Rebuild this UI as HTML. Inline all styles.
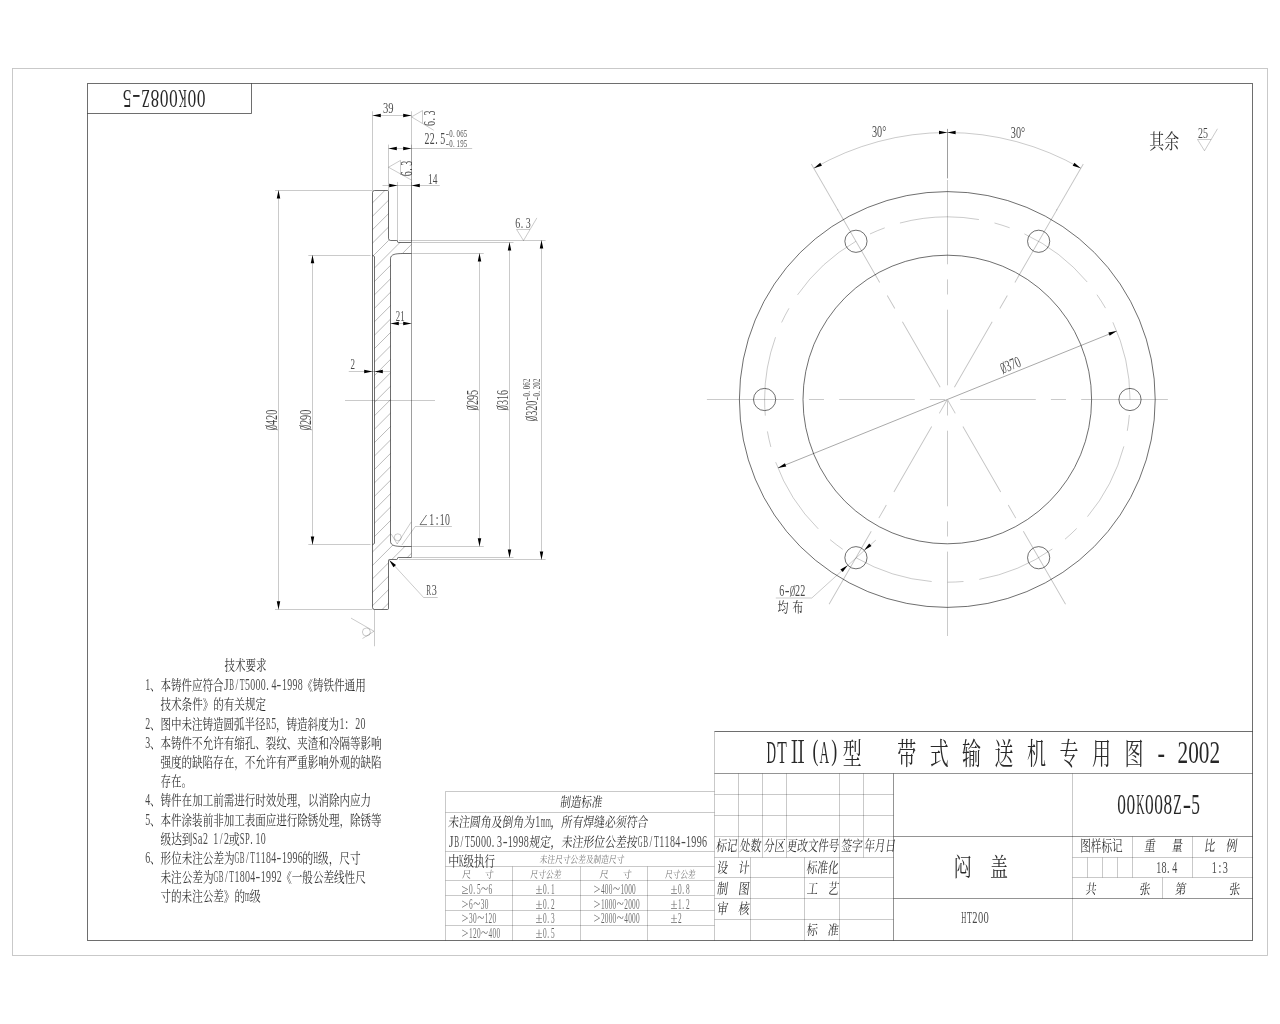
<!DOCTYPE html>
<html lang="zh"><head><meta charset="utf-8"><title>00K008Z-5 闷盖</title>
<style>
html,body{margin:0;padding:0;background:#fff}
body{width:1280px;height:1024px;overflow:hidden;font-family:"Liberation Serif",serif}
svg{display:block;will-change:transform}
.k{fill:none;stroke:#000;stroke-opacity:.57;stroke-width:1}
.t{fill:none;stroke:#000;stroke-opacity:.235;stroke-width:.9}
.t2{fill:none;stroke:#000;stroke-opacity:.38;stroke-width:1}
.t3{fill:none;stroke:#000;stroke-opacity:.34;stroke-width:1}
.m{fill:none;stroke:#000;stroke-opacity:.21;stroke-width:1}
.m2{fill:none;stroke:#000;stroke-opacity:.42;stroke-width:1}
.d{stroke-opacity:.6}
.hh{stroke-opacity:.3}
.sl{fill:none;stroke:#000;stroke-opacity:.5;stroke-width:.5}
.a{fill:#000;stroke:none}
.s{font-family:"Liberation Serif",serif;fill:#000;fill-opacity:.72}
.b{fill-opacity:.85}
.l{fill-opacity:.6}
.ct{font-family:"Liberation Serif","Noto Serif CJK SC",serif;fill:#000;fill-opacity:.84}
.ct.l{fill-opacity:.6}
</style></head><body>
<svg width="1280" height="1024" viewBox="0 0 1280 1024">
<rect class="t" x="12.5" y="68.5" width="1255" height="887"/>
<rect class="k" x="87.5" y="83.5" width="1165" height="857"/>
<path class="k" d="M87.5 113.5H251.5V83.5"/>
<g class="s b" transform="translate(205.8 90.3) rotate(180)" font-size="25.56" aria-label="00K008Z-5">
<text transform="scale(0.68 1)" x="0.41 14.01">00</text>
<text x="19" textLength="8.34" lengthAdjust="spacingAndGlyphs">K</text>
<text transform="scale(0.68 1)" x="41.2 54.8 68.4">008</text>
<text x="56.08" textLength="8.34" lengthAdjust="spacingAndGlyphs">Z</text>
<text x="65.35" textLength="8.34" lengthAdjust="spacingAndGlyphs">-</text>
<text transform="scale(0.68 1)" x="109.19">5</text>
</g>
<clipPath id="sc"><path d="M372.5 190.5L388.5 190.5L388.5 240.5L397.5 240.5L397.5 242.5L411.5 242.5L411.5 253.5L402.5 253.5C396 253.7 390.5 254 390.5 258.8L390.5 541.2C390.5 546 396 546.3 402.5 546.5L411.5 546.5L411.5 557.5L397.5 557.5L397.5 559.5L388.5 559.5L388.5 609.5L372.5 609.5L372.5 544.8L374.5 543.4L374.5 256.6L372.5 255.2Z"/></clipPath>
<path class="t hh" clip-path="url(#sc)" d="M370 205.3L413 162.3M370 218.73L413 175.73M370 232.16L413 189.16M370 245.59L413 202.59M370 259.02L413 216.02M370 272.45L413 229.45M370 285.88L413 242.88M370 299.31L413 256.31M370 312.74L413 269.74M370 326.17L413 283.17M370 339.6L413 296.6M370 353.03L413 310.03M370 366.46L413 323.46M370 379.89L413 336.89M370 393.32L413 350.32M370 406.75L413 363.75M370 420.18L413 377.18M370 433.61L413 390.61M370 447.04L413 404.04M370 460.47L413 417.47M370 473.9L413 430.9M370 487.33L413 444.33M370 500.76L413 457.76M370 514.19L413 471.19M370 527.62L413 484.62M370 541.05L413 498.05M370 554.48L413 511.48M370 567.91L413 524.91M370 581.34L413 538.34M370 594.77L413 551.77M370 608.2L413 565.2M370 621.63L413 578.63"/>
<path class="k" d="M372.5 192.5Q372.5 190.5 374.5 190.5L387.5 190.5Q388.5 190.5 388.5 191.5L388.5 238.3Q388.5 240.5 390.7 240.5L396.7 240.5Q397.5 240.5 397.5 241.3Q397.5 242.5 398.3 242.5L411.5 242.5"/>
<path class="k" d="M411.5 253.5L402.5 253.5C396 253.7 390.5 254 390.5 258.8L390.5 541.2C390.5 546 396 546.3 402.5 546.5L411.5 546.5"/>
<path class="k" d="M411.5 557.5L398.3 557.5Q397.5 557.5 397.5 558.5Q397.5 559.5 396.7 559.5L389.3 559.5Q388.5 559.5 388.5 560.5L388.5 608.4Q388.5 609.5 387.5 609.5L374.5 609.5Q372.5 609.5 372.5 607.4L372.5 192.5"/>
<path class="k" d="M372.5 255.2L374.5 256.6L374.5 543.4L372.5 544.8"/>
<path class="t2" d="M411.5 242.5V557.5"/>
<path class="t" d="M345 400.5L435 400.5"/>
<path class="t" d="M372.5 111.3L372.5 190.5"/>
<path class="t" d="M411.5 111.3L411.5 242.3"/>
<path class="t" d="M372.5 115.5L411.5 115.5"/>
<path class="a" d="M372.5 115.5L380.8 113.75L380.8 117.25z"/>
<path class="a" d="M411.5 115.5L403.2 117.25L403.2 113.75z"/>
<text class="s" transform="translate(383 113.2)" font-size="14.44" textLength="10.6" lengthAdjust="spacingAndGlyphs">39</text>
<path class="t" d="M422.5 110.6L411.5 116.9L433.75 130.25M422.5 110.6V123.1"/>
<g class="s" transform="translate(434.8 126.2) rotate(-90)" font-size="15.64" aria-label="6.3">
<text transform="scale(0.64 1)" x="0.25 8.85 16.89">6.3</text>
</g>
<path class="t" d="M388.5 144.6L388.5 190.5"/>
<path class="t" d="M411.5 144.6L411.5 242.3"/>
<path class="t" d="M388.5 148.5L472.2 148.5"/>
<path class="a" d="M388.5 148.5L396.8 146.75L396.8 150.25z"/>
<path class="a" d="M411.5 148.5L403.2 150.25L403.2 146.75z"/>
<g class="s" transform="translate(424.4 144.1)" font-size="16.24" aria-label="22.5">
<text transform="scale(0.61 1)" x="0.26 8.9 17.83 26.18">22.5</text>
</g>
<g class="s" transform="translate(445.6 137.2)" font-size="10.83" aria-label="-0.065">
<text x="0.18" textLength="3.26" lengthAdjust="spacingAndGlyphs">-</text>
<text transform="scale(0.63 1)" x="5.93 11.88 17.45 23.21 28.97">0.065</text>
</g>
<g class="s" transform="translate(445.6 146.9)" font-size="10.83" aria-label="-0.195">
<text x="0.18" textLength="3.26" lengthAdjust="spacingAndGlyphs">-</text>
<text transform="scale(0.63 1)" x="5.93 11.88 17.45 23.21 28.97">0.195</text>
</g>
<path class="t" d="M400.5 160.4L388.5 167.25L411.9 180.25M400.5 160.4V175"/>
<g class="s" transform="translate(411.8 176.5) rotate(-90)" font-size="15.64" aria-label="6.3">
<text transform="scale(0.64 1)" x="0.25 8.85 16.89">6.3</text>
</g>
<path class="t" d="M397.5 181.9L397.5 241.2"/>
<path class="t" d="M411.5 181.9L411.5 242.3"/>
<path class="t" d="M382.5 185.5L439.75 185.5"/>
<path class="a" d="M397.5 185.5L389.2 187.25L389.2 183.75z"/>
<path class="a" d="M411.5 185.5L419.8 183.75L419.8 187.25z"/>
<text class="s" transform="translate(428.1 183.5)" font-size="14.66" textLength="9.4" lengthAdjust="spacingAndGlyphs">14</text>
<path class="t" d="M275 190.5L372.5 190.5"/>
<path class="t" d="M275 609.5L372.5 609.5"/>
<path class="t" d="M278.5 190.5L278.5 609.4"/>
<path class="a" d="M278.5 190.3L280.25 198.6L276.75 198.6z"/>
<path class="a" d="M278.5 609.6L276.75 601.3L280.25 601.3z"/>
<text class="s" transform="translate(276.9 430.1) rotate(-90)" font-size="15.92" textLength="4.99" lengthAdjust="spacingAndGlyphs">Ø</text>
<path class="sl" transform="translate(276.9 430.2) rotate(-90)" d="M0.2 0.9L4.7 -11.4"/>
<text class="s" transform="translate(276.9 425) rotate(-90)" font-size="16.24" textLength="15.2" lengthAdjust="spacingAndGlyphs">420</text>
<path class="t" d="M308.3 255.5L370.5 255.5"/>
<path class="t" d="M308.3 544.5L370.5 544.5"/>
<path class="t" d="M312.5 255.2L312.5 544.5"/>
<path class="a" d="M312.5 255L314.25 263.3L310.75 263.3z"/>
<path class="a" d="M312.5 544.7L310.75 536.4L314.25 536.4z"/>
<text class="s" transform="translate(310.9 430.1) rotate(-90)" font-size="15.92" textLength="4.99" lengthAdjust="spacingAndGlyphs">Ø</text>
<path class="sl" transform="translate(310.9 430.2) rotate(-90)" d="M0.2 0.9L4.7 -11.4"/>
<text class="s" transform="translate(310.9 425) rotate(-90)" font-size="16.24" textLength="15.2" lengthAdjust="spacingAndGlyphs">290</text>
<path class="t" d="M412.3 253.5L483.75 253.5"/>
<path class="t" d="M412.3 546.5L483.75 546.5"/>
<path class="t" d="M479.5 253.4L479.5 546.4"/>
<path class="a" d="M479.5 253.2L481.25 261.5L477.75 261.5z"/>
<path class="a" d="M479.5 546.6L477.75 538.3L481.25 538.3z"/>
<text class="s" transform="translate(478 410.2) rotate(-90)" font-size="15.92" textLength="4.99" lengthAdjust="spacingAndGlyphs">Ø</text>
<path class="sl" transform="translate(478 410.3) rotate(-90)" d="M0.2 0.9L4.7 -11.4"/>
<text class="s" transform="translate(478 405.1) rotate(-90)" font-size="16.24" textLength="15.2" lengthAdjust="spacingAndGlyphs">295</text>
<path class="t" d="M412.3 242.5L513.5 242.5"/>
<path class="t" d="M412.3 557.5L513.5 557.5"/>
<path class="t" d="M509.5 242.4L509.5 557.5"/>
<path class="a" d="M509.5 242.2L511.25 250.5L507.75 250.5z"/>
<path class="a" d="M509.5 557.7L507.75 549.4L511.25 549.4z"/>
<text class="s" transform="translate(507.5 410.2) rotate(-90)" font-size="15.92" textLength="4.99" lengthAdjust="spacingAndGlyphs">Ø</text>
<path class="sl" transform="translate(507.5 410.3) rotate(-90)" d="M0.2 0.9L4.7 -11.4"/>
<text class="s" transform="translate(507.5 405.1) rotate(-90)" font-size="16.24" textLength="15.2" lengthAdjust="spacingAndGlyphs">316</text>
<path class="t" d="M399 240.5L545.6 240.5"/>
<path class="t" d="M399 559.5L545.6 559.5"/>
<path class="t" d="M541.5 240.4L541.5 559.6"/>
<path class="a" d="M541.5 240.2L543.25 248.5L539.75 248.5z"/>
<path class="a" d="M541.5 559.8L539.75 551.5L543.25 551.5z"/>
<text class="s" transform="translate(537 420.9) rotate(-90)" font-size="15.92" textLength="4.99" lengthAdjust="spacingAndGlyphs">Ø</text>
<path class="sl" transform="translate(537 421) rotate(-90)" d="M0.2 0.9L4.7 -11.4"/>
<text class="s" transform="translate(537 415.8) rotate(-90)" font-size="16.24" textLength="15.2" lengthAdjust="spacingAndGlyphs">320</text>
<g class="s" transform="translate(530 400.3) rotate(-90)" font-size="10.83" aria-label="-0.062">
<text x="0.18" textLength="3.24" lengthAdjust="spacingAndGlyphs">-</text>
<text transform="scale(0.63 1)" x="5.93 11.88 17.45 23.21 28.97">0.062</text>
</g>
<g class="s" transform="translate(540 400.3) rotate(-90)" font-size="10.83" aria-label="-0.202">
<text x="0.18" textLength="3.24" lengthAdjust="spacingAndGlyphs">-</text>
<text transform="scale(0.63 1)" x="5.93 11.88 17.45 23.21 28.97">0.202</text>
</g>
<path class="t" d="M516.6 229.5L523.5 240.6L536.9 217.9M516.6 229.5H530"/>
<g class="s" transform="translate(515.1 227.5)" font-size="15.34" aria-label="6.3">
<text transform="scale(0.65 1)" x="0.24 8.68 16.56">6.3</text>
</g>
<path class="t" d="M390.5 323.5L411.5 323.5"/>
<path class="a" d="M390.5 323.5L398.8 321.75L398.8 325.25z"/>
<path class="a" d="M411.5 323.5L403.2 325.25L403.2 321.75z"/>
<text class="s" transform="translate(395.75 321.3)" font-size="14.14" textLength="8.8" lengthAdjust="spacingAndGlyphs">21</text>
<path class="t" d="M348.75 371.5L390 371.5"/>
<path class="a" d="M372.5 371.5L364.2 373.25L364.2 369.75z"/>
<path class="a" d="M374.5 371.5L382.8 369.75L382.8 373.25z"/>
<text class="s" transform="translate(350.5 369)" font-size="14.29" textLength="4.5" lengthAdjust="spacingAndGlyphs">2</text>
<path class="t" d="M451.9 526.5H415.3L401.9 545"/>
<path class="t d" d="M426.6 515L420 524.6H427"/>
<g class="s" transform="translate(429.2 525)" font-size="15.79" aria-label="1:10">
<text transform="scale(0.62 1)" x="0.25 10.4 17.05 25.45">1:10</text>
</g>
<path class="t" d="M391.25 534L397.2 544L411.25 521.9"/>
<circle class="t" cx="397.8" cy="537.3" r="3.5"/>
<path class="a" d="M389.1 560L396.02 564.9L393.46 567.28z"/>
<path class="t" d="M394.7 566L423.6 597.5H437.7"/>
<g class="s" transform="translate(426.1 594.8)" font-size="14.74" aria-label="R3">
<text x="0.27" textLength="4.86" lengthAdjust="spacingAndGlyphs">R</text>
<text transform="scale(0.69 1)" x="8.07">3</text>
</g>
<path class="t" d="M374.5 609.4L374.5 646.25"/>
<path class="t" d="M351 618.1L374 631.25L362.5 638.5"/>
<circle class="t" cx="366.4" cy="632" r="4"/>
<circle class="k" cx="947.3" cy="399.5" r="207.9"/>
<circle class="k" cx="947.3" cy="399.5" r="144.3"/>
<circle class="k" cx="1130" cy="399.5" r="11.1"/>
<circle class="k" cx="1038.65" cy="241.28" r="11.1"/>
<circle class="k" cx="855.95" cy="241.28" r="11.1"/>
<circle class="k" cx="764.6" cy="399.5" r="11.1"/>
<circle class="k" cx="855.95" cy="557.72" r="11.1"/>
<circle class="k" cx="1038.65" cy="557.72" r="11.1"/>
<path class="t" stroke-dasharray="79.72 15.94 15.94 15.94" d="M1130 399.5A182.7 182.7 0 1 0 764.6 399.5A182.7 182.7 0 1 0 1130 399.5"/>
<path class="t" d="M706.9 399.5H793.8M808.9 399.5H824M839.2 399.5H914.8M929.9 399.5H945M960.2 399.5H1035.8M1050.9 399.5H1066M1081.2 399.5H1167.9"/>
<path class="t" d="M947.5 180V264.3M947.5 279.4V294.5M947.5 309.7V385.3M947.5 400.4V415.5M947.5 430.7V506.3M947.5 521.4V536.5M947.5 551.6V636"/>
<path class="t2" d="M947.5 128.9V178.4"/>
<path class="t" d="M947.3 180V264.3M947.3 279.4V294.5M947.3 309.7V385.3M947.3 400.4V415.5M947.3 430.7V506.3M947.3 521.4V536.5M947.3 551.6V636" transform="rotate(-30 947.3 399.5)"/>
<path class="t" d="M947.3 127.5V181" transform="rotate(-30 947.3 399.5)"/>
<path class="t" d="M947.3 180V264.3M947.3 279.4V294.5M947.3 309.7V385.3M947.3 400.4V415.5M947.3 430.7V506.3M947.3 521.4V536.5M947.3 551.6V636" transform="rotate(30 947.3 399.5)"/>
<path class="t" d="M947.3 127.5V181" transform="rotate(30 947.3 399.5)"/>
<path class="t" d="M813.8 168.27A267 267 0 0 1 1080.8 168.27"/>
<path class="a" d="M947.3 132.5L939 134.25L939 130.75z"/>
<path class="a" d="M947.3 132.5L955.6 130.75L955.6 134.25z"/>
<path class="a" d="M813.8 168.27L820.21 162.72L821.91 165.78z"/>
<path class="a" d="M1080.8 168.27L1072.69 165.78L1074.39 162.72z"/>
<text class="s" transform="translate(872 137)" font-size="15.79" textLength="14.3" lengthAdjust="spacingAndGlyphs">30°</text>
<text class="s" transform="translate(1010.8 137.5)" font-size="15.79" textLength="14.3" lengthAdjust="spacingAndGlyphs">30°</text>
<path class="t3" d="M777.9 467.94L1116.7 331.06"/>
<path class="a" d="M777.9 467.94L784.94 463.21L786.25 466.45z"/>
<path class="a" d="M1116.7 331.06L1109.66 335.79L1108.35 332.55z"/>
<text class="s" transform="translate(1003.09 373.66) rotate(-22)" font-size="15.92" textLength="5.04" lengthAdjust="spacingAndGlyphs">Ø</text>
<path class="sl" transform="translate(1003 373.7) rotate(-22)" d="M0.2 0.9L4.75 -11.4"/>
<text class="s" transform="translate(1007.87 371.73) rotate(-22)" font-size="16.24" textLength="15.35" lengthAdjust="spacingAndGlyphs">370</text>
<path class="t" d="M775.8 598H811.8L875.8 540.1"/>
<path class="a" d="M864.18 550.28L869.16 543.41L871.51 546.01z"/>
<path class="a" d="M847.72 565.17L842.74 572.04L840.39 569.44z"/>
<g class="s" transform="translate(779.2 596)" font-size="15.94" aria-label="6-">
<text transform="scale(0.63 1)" x="0.25">6</text>
<text x="5.56" textLength="4.77" lengthAdjust="spacingAndGlyphs">-</text>
</g>
<text class="s" transform="translate(789.9 596)" font-size="15.62" textLength="5.09" lengthAdjust="spacingAndGlyphs">Ø</text>
<path class="sl" transform="translate(789.8 596)" d="M0.2 0.9L4.8 -11.2"/>
<text class="s" transform="translate(795.1 596)" font-size="15.94" textLength="10.2" lengthAdjust="spacingAndGlyphs">22</text>
<g aria-label="均布">
<text class="ct" transform="translate(777.38 611.8) scale(0.786 1)" font-size="14" x="0 19.08">均布</text>
</g>
<g aria-label="其余">
<text class="ct" x="1149.31" y="149.2" font-size="20" textLength="29.8" lengthAdjust="spacingAndGlyphs">其余</text>
</g>
<path class="t" d="M1197.5 139.5H1211.25M1197.5 139.5L1204.5 150.75L1217.5 128.75"/>
<text class="s" transform="translate(1198 137.5)" font-size="15.04" textLength="10" lengthAdjust="spacingAndGlyphs">25</text>
<g aria-label="技术要求">
<text class="ct" x="224.59" y="670.4" font-size="14" textLength="41.9" lengthAdjust="spacingAndGlyphs">技术要求</text>
</g>
<g aria-label="1、本铸件应符合JB/T5000.4-1998《铸铁件通用">
<g class="s" transform="translate(145 690.2)" font-size="16" aria-label="1">
<text transform="scale(0.62 1)" x="0.26">1</text>
</g>
<text class="ct" x="150.04" y="690.2" font-size="14" textLength="73.5" lengthAdjust="spacingAndGlyphs">、本铸件应符合</text>
<g class="s" transform="translate(223.75 690.2)" font-size="16" aria-label="JB/T5000.4-1998">
<text x="0.26" textLength="4.73" lengthAdjust="spacingAndGlyphs">J</text>
<text x="5.51" textLength="4.73" lengthAdjust="spacingAndGlyphs">B</text>
<text transform="scale(0.62 1)" x="19.05">/</text>
<text x="16.01" textLength="4.73" lengthAdjust="spacingAndGlyphs">T</text>
<text transform="scale(0.62 1)" x="34.3 42.81 51.32 59.83 68.63 76.85">5000.4</text>
<text x="52.76" textLength="4.73" lengthAdjust="spacingAndGlyphs">-</text>
<text transform="scale(0.62 1)" x="93.87 102.38 110.89 119.4">1998</text>
</g>
<text class="ct" x="302.29" y="690.2" font-size="14" textLength="63.5" lengthAdjust="spacingAndGlyphs">《铸铁件通用</text>
</g>
<g aria-label="技术条件》的有关规定">
<text class="ct" x="160.49" y="709.4" font-size="14" textLength="105.5" lengthAdjust="spacingAndGlyphs">技术条件》的有关规定</text>
</g>
<g aria-label="2、图中未注铸造圆弧半径R5，铸造斜度为1：20">
<g class="s" transform="translate(145 728.6)" font-size="16" aria-label="2">
<text transform="scale(0.62 1)" x="0.26">2</text>
</g>
<text class="ct" x="150.04" y="728.6" font-size="14" textLength="115.5" lengthAdjust="spacingAndGlyphs">、图中未注铸造圆弧半径</text>
<g class="s" transform="translate(265.75 728.6)" font-size="16" aria-label="R5">
<text x="0.26" textLength="4.73" lengthAdjust="spacingAndGlyphs">R</text>
<text transform="scale(0.62 1)" x="8.77">5</text>
</g>
<text class="ct" x="276.04" y="728.6" font-size="14" textLength="63" lengthAdjust="spacingAndGlyphs">，铸造斜度为</text>
<g class="s" transform="translate(339.25 728.6)" font-size="16" aria-label="1">
<text transform="scale(0.62 1)" x="0.26">1</text>
</g>
<text class="ct" x="344.29" y="728.6" font-size="14" textLength="10.5" lengthAdjust="spacingAndGlyphs">：</text>
<g class="s" transform="translate(355 728.6)" font-size="16" aria-label="20">
<text transform="scale(0.62 1)" x="0.26 8.77">20</text>
</g>
</g>
<g aria-label="3、本铸件不允许有缩孔、裂纹、夹渣和冷隔等影响">
<g class="s" transform="translate(145 747.8)" font-size="16" aria-label="3">
<text transform="scale(0.62 1)" x="0.26">3</text>
</g>
<text class="ct" x="150.04" y="747.8" font-size="14" textLength="231.5" lengthAdjust="spacingAndGlyphs">、本铸件不允许有缩孔、裂纹、夹渣和冷隔等影响</text>
</g>
<g aria-label="强度的缺陷存在，不允许有严重影响外观的缺陷">
<text class="ct" x="160.49" y="767" font-size="14" textLength="221" lengthAdjust="spacingAndGlyphs">强度的缺陷存在，不允许有严重影响外观的缺陷</text>
</g>
<g aria-label="存在。">
<text class="ct" x="160.49" y="786.2" font-size="14" textLength="31.5" lengthAdjust="spacingAndGlyphs">存在。</text>
</g>
<g aria-label="4、铸件在加工前需进行时效处理，以消除内应力">
<g class="s" transform="translate(145 805.4)" font-size="16" aria-label="4">
<text transform="scale(0.62 1)" x="0.26">4</text>
</g>
<text class="ct" x="150.04" y="805.4" font-size="14" textLength="221" lengthAdjust="spacingAndGlyphs">、铸件在加工前需进行时效处理，以消除内应力</text>
</g>
<g aria-label="5、本件涂装前非加工表面应进行除锈处理，除锈等">
<g class="s" transform="translate(145 824.6)" font-size="16" aria-label="5">
<text transform="scale(0.62 1)" x="0.26">5</text>
</g>
<text class="ct" x="150.04" y="824.6" font-size="14" textLength="231.5" lengthAdjust="spacingAndGlyphs">、本件涂装前非加工表面应进行除锈处理，除锈等</text>
</g>
<g aria-label="级达到Sa2 1/2或SP.10">
<text class="ct" x="160.49" y="843.8" font-size="14" textLength="32" lengthAdjust="spacingAndGlyphs">级达到</text>
<g class="s" transform="translate(192.2 843.8)" font-size="16" aria-label="Sa2">
<text x="0.26" textLength="4.73" lengthAdjust="spacingAndGlyphs">S</text>
<text x="5.51" textLength="4.73" lengthAdjust="spacingAndGlyphs">a</text>
<text transform="scale(0.62 1)" x="17.28">2</text>
</g>
<g class="s" transform="translate(213.2 843.8)" font-size="16" aria-label="1/2">
<text transform="scale(0.62 1)" x="0.26 10.54 17.28">1/2</text>
</g>
<text class="ct" x="228.74" y="843.8" font-size="14" textLength="11" lengthAdjust="spacingAndGlyphs">或</text>
<g class="s" transform="translate(239.45 843.8)" font-size="16" aria-label="SP.10">
<text x="0.26" textLength="4.73" lengthAdjust="spacingAndGlyphs">S</text>
<text x="5.51" textLength="4.73" lengthAdjust="spacingAndGlyphs">P</text>
<text transform="scale(0.62 1)" x="17.56 25.79 34.3">.10</text>
</g>
</g>
<g aria-label="6、形位未注公差为GB/T1184-1996的H级，尺寸">
<g class="s" transform="translate(145 863)" font-size="16" aria-label="6">
<text transform="scale(0.62 1)" x="0.26">6</text>
</g>
<text class="ct" x="150.04" y="863" font-size="14" textLength="84.5" lengthAdjust="spacingAndGlyphs">、形位未注公差为</text>
<g class="s" transform="translate(234.25 863)" font-size="16" aria-label="GB/T1184-1996">
<text x="0.26" textLength="4.73" lengthAdjust="spacingAndGlyphs">G</text>
<text x="5.51" textLength="4.73" lengthAdjust="spacingAndGlyphs">B</text>
<text transform="scale(0.62 1)" x="19.05">/</text>
<text x="16.01" textLength="4.73" lengthAdjust="spacingAndGlyphs">T</text>
<text transform="scale(0.62 1)" x="34.3 42.81 51.32 59.83">1184</text>
<text x="42.26" textLength="4.73" lengthAdjust="spacingAndGlyphs">-</text>
<text transform="scale(0.62 1)" x="76.85 85.36 93.87 102.38">1996</text>
</g>
<text class="ct" x="302.29" y="863" font-size="14" textLength="11" lengthAdjust="spacingAndGlyphs">的</text>
<g class="s" transform="translate(313 863)" font-size="16" aria-label="H">
<text x="0.26" textLength="4.73" lengthAdjust="spacingAndGlyphs">H</text>
</g>
<text class="ct" x="318.04" y="863" font-size="14" textLength="42.5" lengthAdjust="spacingAndGlyphs">级，尺寸</text>
</g>
<g aria-label="未注公差为GB/T1804-1992《一般公差线性尺">
<text class="ct" x="160.49" y="882.2" font-size="14" textLength="53" lengthAdjust="spacingAndGlyphs">未注公差为</text>
<g class="s" transform="translate(213.2 882.2)" font-size="16" aria-label="GB/T1804-1992">
<text x="0.26" textLength="4.73" lengthAdjust="spacingAndGlyphs">G</text>
<text x="5.51" textLength="4.73" lengthAdjust="spacingAndGlyphs">B</text>
<text transform="scale(0.62 1)" x="19.05">/</text>
<text x="16.01" textLength="4.73" lengthAdjust="spacingAndGlyphs">T</text>
<text transform="scale(0.62 1)" x="34.3 42.81 51.32 59.83">1804</text>
<text x="42.26" textLength="4.73" lengthAdjust="spacingAndGlyphs">-</text>
<text transform="scale(0.62 1)" x="76.85 85.36 93.87 102.38">1992</text>
</g>
<text class="ct" x="281.24" y="882.2" font-size="14" textLength="84.5" lengthAdjust="spacingAndGlyphs">《一般公差线性尺</text>
</g>
<g aria-label="寸的未注公差》的m级">
<text class="ct" x="160.49" y="901.4" font-size="14" textLength="84.5" lengthAdjust="spacingAndGlyphs">寸的未注公差》的</text>
<g class="s" transform="translate(244.7 901.4)" font-size="16" aria-label="m">
<text x="0.26" textLength="4.73" lengthAdjust="spacingAndGlyphs">m</text>
</g>
<text class="ct" x="249.74" y="901.4" font-size="14" textLength="11" lengthAdjust="spacingAndGlyphs">级</text>
</g>
<path class="m" d="M445.5 940.5V791.5H714.5"/>
<path class="m" d="M445.5 812.5H714.5M445.5 851.5H714.5M445.5 866.5H714.5M445.5 880.5H714.5M445.5 895.5H714.5M445.5 910.5H714.5M445.5 925.5H714.5"/>
<path class="m" d="M512.5 866.5V940.5M580.5 866.5V940.5M647.5 866.5V940.5"/>
<g aria-label="制造标准">
<text class="ct" transform="translate(559.7 806.6) skewX(-7)" font-size="14" textLength="42.2" lengthAdjust="spacingAndGlyphs">制造标准</text>
</g>
<g aria-label="未注圆角及倒角为1mm，所有焊缝必须符合">
<text class="ct" transform="translate(447.7 827) skewX(-7)" font-size="14" textLength="86.6" lengthAdjust="spacingAndGlyphs">未注圆角及倒角为</text>
<g class="s" transform="translate(535 827)" font-size="16" aria-label="1mm">
<text transform="scale(0.63 1)" x="0.26">1</text>
<text x="5.67" textLength="4.86" lengthAdjust="spacingAndGlyphs">m</text>
<text x="11.07" textLength="4.86" lengthAdjust="spacingAndGlyphs">m</text>
</g>
<text class="ct" transform="translate(550.3 827) skewX(-7)" font-size="14" textLength="97.4" lengthAdjust="spacingAndGlyphs">，所有焊缝必须符合</text>
</g>
<g aria-label="JB/T5000.3-1998规定，未注形位公差按GB/T1184-1996">
<g class="s" transform="translate(448.6 847)" font-size="16" aria-label="JB/T5000.3-1998">
<text x="0.27" textLength="4.86" lengthAdjust="spacingAndGlyphs">J</text>
<text x="5.67" textLength="4.86" lengthAdjust="spacingAndGlyphs">B</text>
<text transform="scale(0.63 1)" x="19.05">/</text>
<text x="16.47" textLength="4.86" lengthAdjust="spacingAndGlyphs">T</text>
<text transform="scale(0.63 1)" x="34.3 42.81 51.32 59.83 68.63 76.85">5000.3</text>
<text x="54.27" textLength="4.86" lengthAdjust="spacingAndGlyphs">-</text>
<text transform="scale(0.63 1)" x="93.87 102.38 110.89 119.4">1998</text>
</g>
<text class="ct" transform="translate(528.7 847) skewX(-7)" font-size="14" textLength="108.2" lengthAdjust="spacingAndGlyphs">规定，未注形位公差按</text>
<g class="s" transform="translate(637.6 847)" font-size="16" aria-label="GB/T1184-1996">
<text x="0.27" textLength="4.86" lengthAdjust="spacingAndGlyphs">G</text>
<text x="5.67" textLength="4.86" lengthAdjust="spacingAndGlyphs">B</text>
<text transform="scale(0.63 1)" x="19.05">/</text>
<text x="16.47" textLength="4.86" lengthAdjust="spacingAndGlyphs">T</text>
<text transform="scale(0.63 1)" x="34.3 42.81 51.32 59.83">1184</text>
<text x="43.47" textLength="4.86" lengthAdjust="spacingAndGlyphs">-</text>
<text transform="scale(0.63 1)" x="76.85 85.36 93.87 102.38">1996</text>
</g>
</g>
<g aria-label="中K级执行">
<text class="ct" x="448.19" y="866.2" font-size="14" textLength="11" lengthAdjust="spacingAndGlyphs">中</text>
<g class="s" transform="translate(458.65 866.2)" font-size="16" aria-label="K">
<text x="0.25" textLength="4.59" lengthAdjust="spacingAndGlyphs">K</text>
</g>
<text class="ct" x="463.55" y="866.2" font-size="14" textLength="31.5" lengthAdjust="spacingAndGlyphs">级执行</text>
</g>
<g aria-label="未注尺寸公差及制造尺寸">
<text class="ct l" transform="translate(539.34 863.2) skewX(-7)" font-size="10" textLength="84.5" lengthAdjust="spacingAndGlyphs">未注尺寸公差及制造尺寸</text>
</g>
<g aria-label="尺寸">
<text class="ct l" transform="translate(461.81 877.6) skewX(-7) scale(0.9 1)" font-size="10" x="0 25">尺寸</text>
</g>
<g aria-label="尺寸公差">
<text class="ct l" transform="translate(529.94 877.6) skewX(-7)" font-size="10" textLength="31.1" lengthAdjust="spacingAndGlyphs">尺寸公差</text>
</g>
<g aria-label="尺寸">
<text class="ct l" transform="translate(599.31 877.6) skewX(-7) scale(0.9 1)" font-size="10" x="0 25.56">尺寸</text>
</g>
<g aria-label="尺寸公差">
<text class="ct l" transform="translate(664.64 877.6) skewX(-7)" font-size="10" textLength="30.5" lengthAdjust="spacingAndGlyphs">尺寸公差</text>
</g>
<g class="s l" transform="translate(461.2 893.7)" font-size="13.83" aria-label="≥0.5~6">
<text x="0.39" textLength="7.02" lengthAdjust="spacingAndGlyphs">≥</text>
<text transform="scale(0.53 1)" x="14.94 22.54 29.66">0.5</text>
<text x="19.89" textLength="7.02" lengthAdjust="spacingAndGlyphs">~</text>
<text transform="scale(0.53 1)" x="51.73">6</text>
</g>
<g class="s l" transform="translate(535.2 893.7)" font-size="13.83" aria-label="±0.1">
<text x="0.39" textLength="7.02" lengthAdjust="spacingAndGlyphs">±</text>
<text transform="scale(0.53 1)" x="14.94 22.54 29.66">0.1</text>
</g>
<g class="s l" transform="translate(593 893.7)" font-size="13.83" aria-label="&gt;400~1000">
<text x="0.39" textLength="7.02" lengthAdjust="spacingAndGlyphs">&gt;</text>
<text transform="scale(0.53 1)" x="14.94 22.3 29.66">400</text>
<text x="19.89" textLength="7.02" lengthAdjust="spacingAndGlyphs">~</text>
<text transform="scale(0.53 1)" x="51.73 59.09 66.45 73.81">1000</text>
</g>
<g class="s l" transform="translate(670.2 893.7)" font-size="13.83" aria-label="±0.8">
<text x="0.39" textLength="7.02" lengthAdjust="spacingAndGlyphs">±</text>
<text transform="scale(0.53 1)" x="14.94 22.54 29.66">0.8</text>
</g>
<g class="s l" transform="translate(461.2 908.55)" font-size="13.83" aria-label="&gt;6~30">
<text x="0.39" textLength="7.02" lengthAdjust="spacingAndGlyphs">&gt;</text>
<text transform="scale(0.53 1)" x="14.94">6</text>
<text x="12.09" textLength="7.02" lengthAdjust="spacingAndGlyphs">~</text>
<text transform="scale(0.53 1)" x="37.01 44.37">30</text>
</g>
<g class="s l" transform="translate(535.2 908.55)" font-size="13.83" aria-label="±0.2">
<text x="0.39" textLength="7.02" lengthAdjust="spacingAndGlyphs">±</text>
<text transform="scale(0.53 1)" x="14.94 22.54 29.66">0.2</text>
</g>
<g class="s l" transform="translate(593 908.55)" font-size="13.83" aria-label="&gt;1000~2000">
<text x="0.39" textLength="7.02" lengthAdjust="spacingAndGlyphs">&gt;</text>
<text transform="scale(0.53 1)" x="14.94 22.3 29.66 37.01">1000</text>
<text x="23.79" textLength="7.02" lengthAdjust="spacingAndGlyphs">~</text>
<text transform="scale(0.53 1)" x="59.09 66.45 73.81 81.17">2000</text>
</g>
<g class="s l" transform="translate(670.2 908.55)" font-size="13.83" aria-label="±1.2">
<text x="0.39" textLength="7.02" lengthAdjust="spacingAndGlyphs">±</text>
<text transform="scale(0.53 1)" x="14.94 22.54 29.66">1.2</text>
</g>
<g class="s l" transform="translate(461.2 923.4)" font-size="13.83" aria-label="&gt;30~120">
<text x="0.39" textLength="7.02" lengthAdjust="spacingAndGlyphs">&gt;</text>
<text transform="scale(0.53 1)" x="14.94 22.3">30</text>
<text x="15.99" textLength="7.02" lengthAdjust="spacingAndGlyphs">~</text>
<text transform="scale(0.53 1)" x="44.37 51.73 59.09">120</text>
</g>
<g class="s l" transform="translate(535.2 923.4)" font-size="13.83" aria-label="±0.3">
<text x="0.39" textLength="7.02" lengthAdjust="spacingAndGlyphs">±</text>
<text transform="scale(0.53 1)" x="14.94 22.54 29.66">0.3</text>
</g>
<g class="s l" transform="translate(593 923.4)" font-size="13.83" aria-label="&gt;2000~4000">
<text x="0.39" textLength="7.02" lengthAdjust="spacingAndGlyphs">&gt;</text>
<text transform="scale(0.53 1)" x="14.94 22.3 29.66 37.01">2000</text>
<text x="23.79" textLength="7.02" lengthAdjust="spacingAndGlyphs">~</text>
<text transform="scale(0.53 1)" x="59.09 66.45 73.81 81.17">4000</text>
</g>
<g class="s l" transform="translate(670.2 923.4)" font-size="13.83" aria-label="±2">
<text x="0.39" textLength="7.02" lengthAdjust="spacingAndGlyphs">±</text>
<text transform="scale(0.53 1)" x="14.94">2</text>
</g>
<g class="s l" transform="translate(461.2 938.25)" font-size="13.83" aria-label="&gt;120~400">
<text x="0.39" textLength="7.02" lengthAdjust="spacingAndGlyphs">&gt;</text>
<text transform="scale(0.53 1)" x="14.94 22.3 29.66">120</text>
<text x="19.89" textLength="7.02" lengthAdjust="spacingAndGlyphs">~</text>
<text transform="scale(0.53 1)" x="51.73 59.09 66.45">400</text>
</g>
<g class="s l" transform="translate(535.2 938.25)" font-size="13.83" aria-label="±0.5">
<text x="0.39" textLength="7.02" lengthAdjust="spacingAndGlyphs">±</text>
<text transform="scale(0.53 1)" x="14.94 22.54 29.66">0.5</text>
</g>
<path class="k" d="M714.5 731.5H1252.5"/>
<path class="m" d="M714.5 940.5V731.5"/>
<path class="m2" d="M714.5 773.5H1252.5"/>
<path class="m2" d="M893.5 773.5V940.5"/>
<path class="m" d="M714.5 857.5H893.5"/>
<path class="m2" d="M893.5 836.5H1252.5M893.5 898.5H1252.5"/>
<path class="m" d="M1072.5 773.5V940.5"/>
<path class="m" d="M1072.5 857.5H1252.5M1072.5 877.5H1252.5"/>
<path class="m" d="M1132.5 836.5V877.5M1192.5 836.5V877.5M1087.5 857.5V877.5M1102.5 857.5V877.5M1117.5 857.5V877.5M1162.5 877.5V898.5"/>
<path class="m" d="M714.5 794.5H893.5M714.5 815.5H893.5M714.5 836.5H893.5"/>
<path class="m" d="M738.5 773.5V857.5M762.5 773.5V857.5M786.5 773.5V857.5M839.5 773.5V857.5M863.5 773.5V857.5"/>
<path class="m" d="M714.5 877.5H893.5M714.5 898.5H893.5M714.5 919.5H893.5"/>
<path class="m" d="M750.5 857.5V940.5M804.5 857.5V940.5M839.5 857.5V940.5"/>
<g aria-label="DTⅡ(A)型 带式输送机专用图－2002">
<g class="s b" transform="translate(766 762.6)" font-size="31.58" aria-label="DT">
<text x="0.53" textLength="9.54" lengthAdjust="spacingAndGlyphs">D</text>
<text x="11.13" textLength="9.54" lengthAdjust="spacingAndGlyphs">T</text>
</g>
<text class="ct" x="787.81" y="763.4" font-size="30" textLength="20" lengthAdjust="spacingAndGlyphs">Ⅱ</text>
<text class="s b" transform="translate(812.6 760.2)" font-size="29.32" textLength="6" lengthAdjust="spacingAndGlyphs">(</text>
<g class="s b" transform="translate(819 762.6)" font-size="31.58" aria-label="A">
<text x="0.53" textLength="9.54" lengthAdjust="spacingAndGlyphs">A</text>
</g>
<text class="s b" transform="translate(831.2 760.2)" font-size="29.32" textLength="6" lengthAdjust="spacingAndGlyphs">)</text>
<text class="ct" x="842.63" y="763.6" font-size="30" textLength="19" lengthAdjust="spacingAndGlyphs">型</text>
<text class="ct" transform="translate(897.13 763.6) scale(0.6333 1)" font-size="30" x="0 51.32 102.63 153.95 205.26 256.58 307.89 359.21">带式输送机专用图</text>
<text class="s b" transform="translate(1157.5 762.6)" font-size="31.58" textLength="7.5" lengthAdjust="spacingAndGlyphs">-</text>
<text class="s b" transform="translate(1177.5 762.8)" font-size="31.58" textLength="42.5" lengthAdjust="spacingAndGlyphs">2002</text>
</g>
<g class="s b" transform="translate(1117.1 813.7)" font-size="29.47" aria-label="00K008Z-5">
<text transform="scale(0.59 1)" x="0.47 16.15">00</text>
<text x="19.07" textLength="8.37" lengthAdjust="spacingAndGlyphs">K</text>
<text transform="scale(0.59 1)" x="47.5 63.18 78.86">008</text>
<text x="56.27" textLength="8.37" lengthAdjust="spacingAndGlyphs">Z</text>
<text x="65.56" textLength="8.37" lengthAdjust="spacingAndGlyphs">-</text>
<text transform="scale(0.59 1)" x="125.89">5</text>
</g>
<g aria-label="标记">
<text class="ct" transform="translate(715.67 851.4) skewX(-7)" font-size="15" textLength="21.4" lengthAdjust="spacingAndGlyphs">标记</text>
</g>
<g aria-label="处数">
<text class="ct" transform="translate(739.27 851.4) skewX(-7)" font-size="15" textLength="21.4" lengthAdjust="spacingAndGlyphs">处数</text>
</g>
<g aria-label="分区">
<text class="ct" transform="translate(763.27 851.4) skewX(-7)" font-size="15" textLength="21.4" lengthAdjust="spacingAndGlyphs">分区</text>
</g>
<g aria-label="更改文件号">
<text class="ct" transform="translate(786.27 851.4) skewX(-7)" font-size="15" textLength="52.2" lengthAdjust="spacingAndGlyphs">更改文件号</text>
</g>
<g aria-label="签字">
<text class="ct" transform="translate(840.67 851.4) skewX(-7)" font-size="15" textLength="21.4" lengthAdjust="spacingAndGlyphs">签字</text>
</g>
<g aria-label="年月日">
<text class="ct" transform="translate(863.67 851.4) skewX(-7)" font-size="15" textLength="31.8" lengthAdjust="spacingAndGlyphs">年月日</text>
</g>
<g aria-label="设计">
<text class="ct" transform="translate(716.57 872.5) skewX(-7) scale(0.7333 1)" font-size="15" x="0 29.32">设计</text>
</g>
<g aria-label="制图">
<text class="ct" transform="translate(716.57 893.5) skewX(-7) scale(0.7333 1)" font-size="15" x="0 29.32">制图</text>
</g>
<g aria-label="审核">
<text class="ct" transform="translate(716.57 914.3) skewX(-7) scale(0.7333 1)" font-size="15" x="0 29.32">审核</text>
</g>
<g aria-label="标准化">
<text class="ct" transform="translate(806.27 872.5) skewX(-7)" font-size="15" textLength="31.8" lengthAdjust="spacingAndGlyphs">标准化</text>
</g>
<g aria-label="工艺">
<text class="ct" transform="translate(806.47 893.5) skewX(-7) scale(0.7333 1)" font-size="15" x="0 28.36">工艺</text>
</g>
<g aria-label="标准">
<text class="ct" transform="translate(806.3 935.4) skewX(-7) scale(0.7857 1)" font-size="14" x="0 26.73">标准</text>
</g>
<g aria-label="闷盖">
<text class="ct" transform="translate(953.66 876) scale(0.72 1)" font-size="25" x="0 50.56">闷盖</text>
</g>
<g class="s" transform="translate(961 923)" font-size="15.94" aria-label="HT200">
<text x="0.28" textLength="5.04" lengthAdjust="spacingAndGlyphs">H</text>
<text x="5.88" textLength="5.04" lengthAdjust="spacingAndGlyphs">T</text>
<text transform="scale(0.66 1)" x="17.21 25.69 34.17">200</text>
</g>
<g aria-label="图样标记">
<text class="ct" x="1080.19" y="851.4" font-size="15" textLength="42.5" lengthAdjust="spacingAndGlyphs">图样标记</text>
</g>
<g aria-label="重量">
<text class="ct" transform="translate(1144.07 851.4) skewX(-7) scale(0.7333 1)" font-size="15" x="0 37.09">重量</text>
</g>
<g aria-label="比例">
<text class="ct" transform="translate(1203.67 851.4) skewX(-7) scale(0.7333 1)" font-size="15" x="0 30">比例</text>
</g>
<g class="s" transform="translate(1156 873)" font-size="15.94" aria-label="18.4">
<text transform="scale(0.63 1)" x="0.25 8.73 17.5 25.69">18.4</text>
</g>
<g class="s" transform="translate(1211.7 873)" font-size="15.94" aria-label="1:3">
<text transform="scale(0.64 1)" x="0.25 10.5 17.21">1:3</text>
</g>
<g aria-label="共张第张">
<text class="ct" transform="translate(1085.1 893.6) skewX(-7) scale(0.7857 1)" font-size="14" x="0 68.73 114.04 182.76">共张第张</text>
</g>
</svg>
</body></html>
